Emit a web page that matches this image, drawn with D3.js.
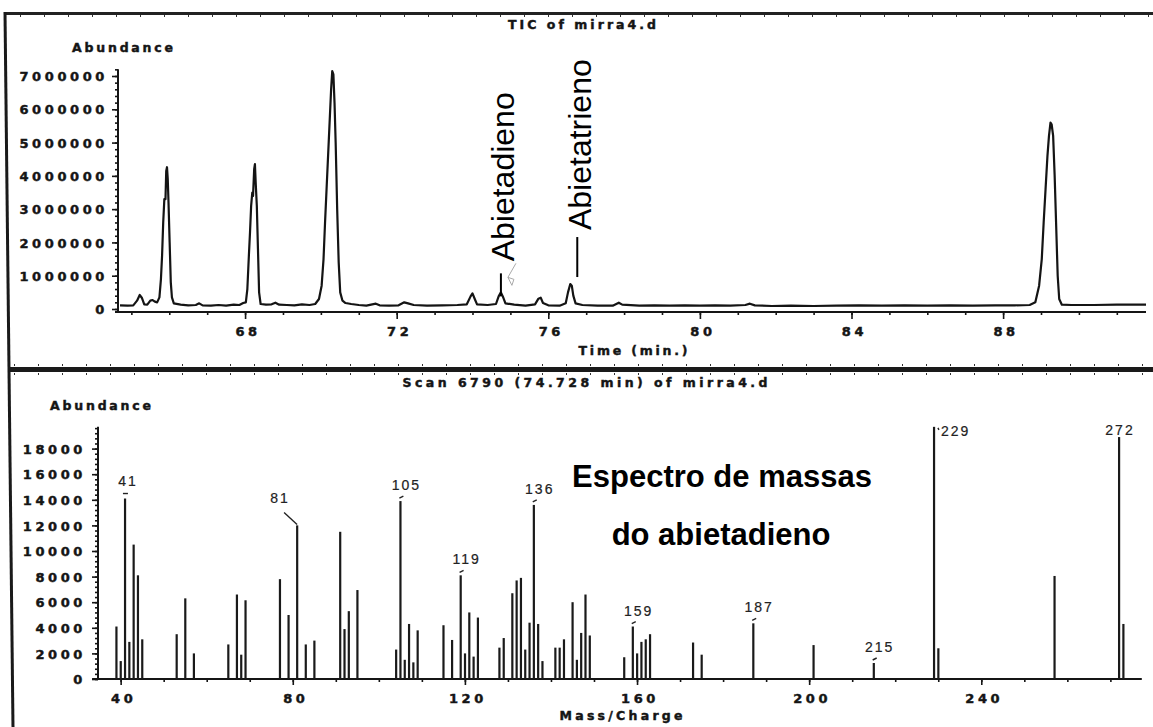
<!DOCTYPE html>
<html><head><meta charset="utf-8">
<script src="https://cdn.jsdelivr.net/npm/d3@7"></script>
<style>
html,body{margin:0;padding:0;background:#fff;}
svg{display:block;}
.tk text{font-family:"DejaVu Sans",sans-serif;font-weight:bold;font-size:13px;letter-spacing:3.6px;fill:#151515;stroke:#151515;stroke-width:0.45px;}
.tk line{stroke:#151515;stroke-width:1.6;}
.tk path{display:none;}
.hatch line{stroke:#333;stroke-width:1;}
.hatch path{display:none;}
.ttl{font-family:"DejaVu Sans",sans-serif;font-weight:bold;font-size:12.5px;fill:#151515;stroke:#151515;stroke-width:0.45px;}
.pk{font-family:"Liberation Sans",Arial,sans-serif;font-size:14px;letter-spacing:2px;fill:#222;stroke:#222;stroke-width:0.2px;}
.ann{font-family:"Liberation Sans",Arial,sans-serif;font-size:32px;fill:#000;}
.esp{font-family:"Liberation Sans",Arial,sans-serif;font-weight:bold;font-size:31px;fill:#000;}
</style></head><body>
<svg id="c" width="1153" height="727"></svg>
<script>
// ---------- TIC chromatogram data (time in min, abundance) ----------
const ticTrace = [
[64.70,110000],[64.90,100000],[65.05,110000],[65.15,250000],[65.22,420000],[65.28,330000],[65.34,140000],
[65.42,130000],[65.50,250000],[65.56,270000],[65.62,220000],[65.68,200000],[65.74,350000],[65.78,900000],
[65.81,1600000],[65.84,2600000],[65.87,3300000],[65.90,3300000],[65.92,4150000],[65.94,4260000],[65.96,3900000],
[65.98,3200000],[66.01,2000000],[66.04,800000],[66.07,350000],[66.12,170000],[66.30,130000],[66.50,110000],
[66.70,120000],[66.79,170000],[66.88,110000],[67.10,100000],[67.30,120000],[67.50,100000],[67.70,130000],
[67.85,120000],[67.95,180000],[68.02,200000],[68.06,600000],[68.10,1600000],[68.13,2300000],[68.16,3100000],
[68.19,3500000],[68.21,3400000],[68.24,4200000],[68.26,4350000],[68.28,3800000],[68.31,3100000],[68.34,1800000],
[68.37,500000],[68.41,150000],[68.55,130000],[68.70,140000],[68.80,190000],[68.90,130000],[69.10,120000],
[69.30,110000],[69.50,140000],[69.70,120000],[69.85,150000],[69.95,300000],[70.02,700000],[70.07,1500000],
[70.11,2600000],[70.15,3600000],[70.19,4600000],[70.23,5600000],[70.27,6600000],[70.30,7150000],[70.33,7050000],
[70.36,6200000],[70.39,5000000],[70.43,3000000],[70.47,1400000],[70.51,500000],[70.57,250000],[70.65,180000],
[70.80,150000],[71.00,120000],[71.20,100000],[71.45,160000],[71.55,110000],[71.80,100000],[72.05,110000],
[72.20,200000],[72.30,170000],[72.45,120000],[72.80,100000],[73.20,110000],[73.60,120000],[73.85,140000],
[73.95,380000],[74.00,470000],[74.06,300000],[74.12,140000],[74.40,120000],[74.62,150000],[74.69,380000],
[74.75,500000],[74.80,380000],[74.87,170000],[75.10,130000],[75.40,100000],[75.65,140000],[75.74,310000],
[75.80,340000],[75.86,180000],[76.00,110000],[76.30,100000],[76.46,170000],[76.52,500000],[76.58,750000],
[76.62,700000],[76.66,400000],[76.72,170000],[76.90,120000],[77.30,100000],[77.70,100000],[77.86,190000],
[77.95,130000],[78.40,100000],[78.80,110000],[79.20,100000],[79.60,110000],[80.00,100000],[80.40,110000],
[80.80,100000],[81.20,120000],[81.32,160000],[81.45,110000],[81.90,90000],[82.40,100000],[83.00,90000],
[83.60,100000],[84.20,110000],[84.80,100000],[85.40,110000],[86.00,100000],[86.60,110000],[87.20,100000],
[87.80,110000],[88.30,110000],[88.70,120000],[88.85,200000],[88.95,700000],[89.02,1500000],[89.07,2600000],
[89.12,3600000],[89.17,4600000],[89.21,5200000],[89.25,5600000],[89.28,5550000],[89.32,5200000],[89.36,4000000],
[89.40,2500000],[89.44,1000000],[89.48,300000],[89.55,130000],[89.80,120000],[90.40,120000],[91.00,130000],
[91.77,130000]
];
const ticXTicks = [68,72,76,80,84,88];
const ticYTicks = [0,1000000,2000000,3000000,4000000,5000000,6000000,7000000];
const annNames = ["Abietadieno","Abietatrieno"];
const annTimes = [74.75,76.58];
const annAbund = [500000,750000];

// ---------- Mass spectrum data ----------
const msMz =    [39,40,41,42,43,44,45,53,55,57,65,67,68,69,77,79,81,83,85,91,92,93,95,
                 104,105,106,107,108,109,115,117,119,120,121,122,123,128,129,131,132,133,134,135,136,137,138,
                 141,142,143,145,146,147,148,149,157,159,160,161,162,163,173,175,187,201,215,229,230,257,272,273];
const msAbund = [4100,1400,14100,2900,10500,8100,3100,3500,6300,2000,2700,6600,1900,6150,7800,5000,12000,2700,3000,11500,3900,5300,6950,
                 2300,13900,1500,4300,1300,3800,4200,3050,8100,2000,5200,1750,4800,2450,3200,6700,7700,7900,2300,4400,13600,4300,1400,
                 2450,2450,3100,6000,1500,3600,6600,3400,1700,4100,2000,2900,3100,3500,2850,1900,4350,2650,1250,19700,2400,8050,18900,4300];
const msLabels = [41,81,105,119,136,159,187,215,229,272];
const msXTicks = [40,80,120,160,200,240];
const msYTicks = [0,2000,4000,6000,8000,10000,12000,14000,16000,18000];

const svg = d3.select("#c");
svg.append("rect").attr("width",1153).attr("height",727).attr("fill","#fff");

// ---------- frame ----------
const frameX = d3.scaleLinear().domain([0, 1153]).range([0, 1153]);
svg.append("g").attr("class","hatch").attr("transform","translate(0,14)")
  .call(d3.axisBottom(frameX).tickValues(d3.range(20, 1153, 24)).tickSize(3).tickFormat(""));
svg.append("g").attr("class","hatch").attr("transform","translate(0,366)")
  .call(d3.axisTop(frameX).tickValues(d3.range(14, 1153, 24)).tickSize(2).tickFormat(""));
svg.append("g").attr("class","hatch").attr("transform","translate(0,373)")
  .call(d3.axisBottom(frameX).tickValues(d3.range(14, 1153, 24)).tickSize(2).tickFormat(""));
svg.append("line").attr("x1",4).attr("y1",13.5).attr("x2",1153).attr("y2",13.5).attr("stroke","#222").attr("stroke-width",3);
svg.append("line").attr("x1",8).attr("y1",369.5).attr("x2",1153).attr("y2",369.5).attr("stroke","#1a1a1a").attr("stroke-width",5);
svg.append("line").attr("x1",5).attr("y1",12).attr("x2",13).attr("y2",727).attr("stroke","#1a1a1a").attr("stroke-width",3);

// ---------- TOP: TIC ----------
const xT = d3.scaleLinear().domain([64.7, 91.77]).range([120, 1146]);
const yT = d3.scaleLinear().domain([0, 7000000]).range([309, 76]);
const yAxT = 118, xAxT = yT(0) + 3;

svg.append("text").attr("class","ttl").attr("x",582).attr("y",29).attr("text-anchor","middle")
  .attr("textLength",148).attr("lengthAdjust","spacing").text("TIC of mirra4.d");
svg.append("text").attr("class","ttl").attr("x",72).attr("y",52)
  .attr("textLength",101).attr("lengthAdjust","spacing").text("Abundance");

// y axis
svg.append("g").attr("class","tk").attr("transform",`translate(${yAxT},0)`)
  .call(d3.axisLeft(yT).tickValues(d3.range(0, 7200001, 200000)).tickSize(3).tickFormat(""));
const gyT = svg.append("g").attr("class","tk").attr("transform",`translate(${yAxT},0)`)
  .call(d3.axisLeft(yT).tickValues(ticYTicks).tickSize(6).tickPadding(0).tickFormat(d3.format("d")));
gyT.selectAll("text").attr("x",-10).attr("dy","0.36em");
svg.append("line").attr("x1",yAxT).attr("x2",yAxT).attr("y1",yT(7200000)).attr("y2",xAxT).attr("stroke","#151515").attr("stroke-width",2);

// x axis
svg.append("g").attr("class","tk").attr("transform",`translate(0,${xAxT})`)
  .call(d3.axisBottom(xT).tickValues(d3.range(65, 92, 1)).tickSize(3).tickFormat(""));
const gxT = svg.append("g").attr("class","tk").attr("transform",`translate(0,${xAxT})`)
  .call(d3.axisBottom(xT).tickValues(ticXTicks).tickSize(7).tickFormat(d3.format("d")));
gxT.selectAll("text").attr("y",24).attr("dy",0).attr("dx","2.5px");
svg.append("line").attr("x1",115).attr("x2",xT(91.77)).attr("y1",xAxT).attr("y2",xAxT).attr("stroke","#151515").attr("stroke-width",2);
svg.append("text").attr("class","ttl").attr("x",633).attr("y",355).attr("text-anchor","middle")
  .attr("textLength",109).attr("lengthAdjust","spacing").text("Time (min.)");

// trace
svg.append("path").datum(ticTrace)
  .attr("d", d3.line().x(d=>xT(d[0])).y(d=>yT(d[1])))
  .attr("fill","none").attr("stroke","#141414").attr("stroke-width",2.2).attr("stroke-linejoin","round");

// annotations
{
  const x = xT(annTimes[0]), yp = yT(annAbund[0]);
  const lb = yp + 4, lt = lb - 23;
  svg.append("line").attr("x1",x).attr("x2",x).attr("y1",lt).attr("y2",lb).attr("stroke","#000").attr("stroke-width",2);
  svg.append("text").attr("class","ann").attr("transform",`translate(${x+13},${lt-12}) rotate(-90)`).text(annNames[0]);
  svg.append("path").attr("d",`M${x+15},${lt-10} L${x+7},${lt+4} M${x+7},${lt+4} l6,2 l-2,6 z`)
    .attr("fill","none").attr("stroke","#aaa").attr("stroke-width",1);
}
{
  const x = xT(annTimes[1]), yp = yT(annAbund[1]);
  const lb = yp - 7, lt = lb - 40;
  svg.append("line").attr("x1",x+7).attr("x2",x+7).attr("y1",lt).attr("y2",lb).attr("stroke","#000").attr("stroke-width",2);
  svg.append("text").attr("class","ann").attr("transform",`translate(${x+21},${lt-7}) rotate(-90)`).text(annNames[1]);
}

// ---------- BOTTOM: Mass spectrum ----------
const xB = d3.scaleLinear().domain([33.6, 277.3]).range([93.1, 1141.8]);
const yB = d3.scaleLinear().domain([0, 18000]).range([679, 448.6]);
const yAxB = 98, xAxB = yB(0);

svg.append("text").attr("class","ttl").attr("x",585).attr("y",387).attr("text-anchor","middle")
  .attr("textLength",365).attr("lengthAdjust","spacing").text("Scan 6790 (74.728 min) of mirra4.d");
svg.append("text").attr("class","ttl").attr("x",50).attr("y",410)
  .attr("textLength",101).attr("lengthAdjust","spacing").text("Abundance");

svg.append("g").attr("class","tk").attr("transform",`translate(${yAxB},0)`)
  .call(d3.axisLeft(yB).tickValues(d3.range(0, 19700, 400)).tickSize(3).tickFormat(""));
const gyB = svg.append("g").attr("class","tk").attr("transform",`translate(${yAxB},0)`)
  .call(d3.axisLeft(yB).tickValues(msYTicks).tickSize(6).tickFormat(d3.format("d")));
gyB.selectAll("text").attr("x",-12).attr("dy","0.36em");
svg.append("line").attr("x1",yAxB).attr("x2",yAxB).attr("y1",yB(19700)).attr("y2",xAxB).attr("stroke","#151515").attr("stroke-width",2);

svg.append("g").attr("class","tk").attr("transform",`translate(0,${xAxB})`)
  .call(d3.axisBottom(xB).tickValues(d3.range(40, 280, 10)).tickSize(3).tickFormat(""));
const gxB = svg.append("g").attr("class","tk").attr("transform",`translate(0,${xAxB})`)
  .call(d3.axisBottom(xB).tickValues(msXTicks).tickSize(6).tickFormat(d3.format("d")));
gxB.selectAll("text").attr("y",24).attr("dy",0).attr("dx","2.5px");
svg.append("line").attr("x1",xB(33.6)-1).attr("x2",xB(277.3)).attr("y1",xAxB).attr("y2",xAxB).attr("stroke","#151515").attr("stroke-width",2);
svg.append("text").attr("class","ttl").attr("x",621).attr("y",720).attr("text-anchor","middle")
  .attr("textLength",123).attr("lengthAdjust","spacing").text("Mass/Charge");

// bars
svg.append("g").selectAll("rect").data(msMz).join("rect")
  .attr("x",(d)=>xB(d)-1).attr("width",2.2)
  .attr("y",(d,i)=>yB(msAbund[i])).attr("height",(d,i)=>xAxB - yB(msAbund[i]))
  .attr("fill","#1a1a1a");

// peak labels
msLabels.forEach(m=>{
  const v = msAbund[msMz.indexOf(m)];
  const x = xB(m), top = yB(v);
  let lx = x+5, ly = top-11, anchor = "middle", lead = [x-1, top-3, x+3, top-5];
  if (m===41){ lx = x+2; ly = top-13; lead = [x-2, top-5, x+3, top-5]; }
  if (m===81){ lx = x-18; ly = top-22; lead = [x-13, top-13, x, top-1]; }
  if (m===229){ lx = x+6; ly = top+9; anchor = "start"; lead = [x+4, top+1, x+5, top+3]; }
  if (m===272){ lx = x; ly = top-2; lead = null; }
  svg.append("text").attr("class","pk").attr("x",lx+1).attr("y",ly).attr("text-anchor",anchor).text(String(m));
  if (lead) svg.append("line").attr("x1",lead[0]).attr("y1",lead[1]).attr("x2",lead[2]).attr("y2",lead[3])
     .attr("stroke","#222").attr("stroke-width",1.4);
});

svg.append("text").attr("class","esp").attr("x",722).attr("y",487).attr("text-anchor","middle").text("Espectro de massas");
svg.append("text").attr("class","esp").attr("x",721).attr("y",545).attr("text-anchor","middle").text("do abietadieno");
</script>
</body></html>
